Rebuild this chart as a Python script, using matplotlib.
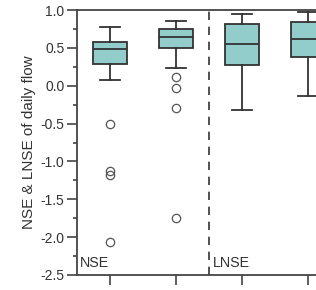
import matplotlib
matplotlib.use("Agg")
import matplotlib.pyplot as plt
from matplotlib.ticker import MultipleLocator

plt.rcParams['font.family'] = ['Liberation Sans', 'DejaVu Sans']

groups = ["NSE-1", "NSE-2", "LNSE-1", "LNSE-2"]
whislo = [0.08, 0.24, -0.32, -0.14]
q1 = [0.29, 0.50, 0.27, 0.38]
med = [0.49, 0.65, 0.55, 0.62]
q3 = [0.58, 0.75, 0.81, 0.84]
whishi = [0.78, 0.86, 0.95, 0.98]
fliers = [[-0.50, -1.13, -1.18, -2.07],
          [0.12, -0.03, -0.29, -1.75],
          [], []]
section_labels = ["NSE", "LNSE"]
ylabel = "NSE & LNSE of daily flow"

fig = plt.figure(figsize=(3.16, 2.90), dpi=100)
ax = fig.add_axes([77/316, 15/290, 264/316, 265/290])

stats = []
for i in range(len(groups)):
    stats.append(dict(label=groups[i], whislo=whislo[i], q1=q1[i], med=med[i],
                      q3=q3[i], whishi=whishi[i], fliers=fliers[i]))

edge = "#333333"
bp = ax.bxp(stats, positions=[1, 2, 3, 4], widths=0.52, patch_artist=True,
            showfliers=True,
            boxprops=dict(facecolor="#93CDCB", edgecolor=edge, linewidth=1.3),
            medianprops=dict(color=edge, linewidth=1.3),
            whiskerprops=dict(color=edge, linewidth=1.3),
            capprops=dict(color=edge, linewidth=1.3),
            capwidths=0.29,
            flierprops=dict(marker="o", markerfacecolor="none",
                            markeredgecolor="#555555", markersize=6,
                            markeredgewidth=0.9))

ax.axvline(2.5, color="#333333", linestyle=(0, (5, 4)), linewidth=1.2)

ax.set_xlim(0.5, 4.5)
ax.set_ylim(-2.5, 1.0)
ax.yaxis.set_major_locator(MultipleLocator(0.5))
ax.yaxis.set_minor_locator(MultipleLocator(0.25))
ax.set_yticklabels([f"{v:.1f}" for v in ax.get_yticks()])
ax.set_xticks([1, 2, 3, 4])
ax.set_xticklabels([])
ax.tick_params(axis="both", which="major", direction="out", length=7,
               width=1.2, color="#444444", labelsize=10, labelcolor="#333333",
               pad=2)
ax.tick_params(axis="y", which="minor", direction="out", length=3,
               width=1.2, color="#444444")
for s in ["left", "bottom", "top", "right"]:
    ax.spines[s].set_color("#444444")
    ax.spines[s].set_linewidth(1.3)

ax.set_ylabel(ylabel, fontsize=11, color="#333333")
ax.yaxis.set_label_coords(-0.155, 0.5)

ax.text(0.55, -2.43, section_labels[0], fontsize=10.3, color="#333333",
        ha="left", va="bottom")
ax.text(2.56, -2.43, section_labels[1], fontsize=10.3, color="#333333",
        ha="left", va="bottom")

fig.savefig("out.png", dpi=100)
